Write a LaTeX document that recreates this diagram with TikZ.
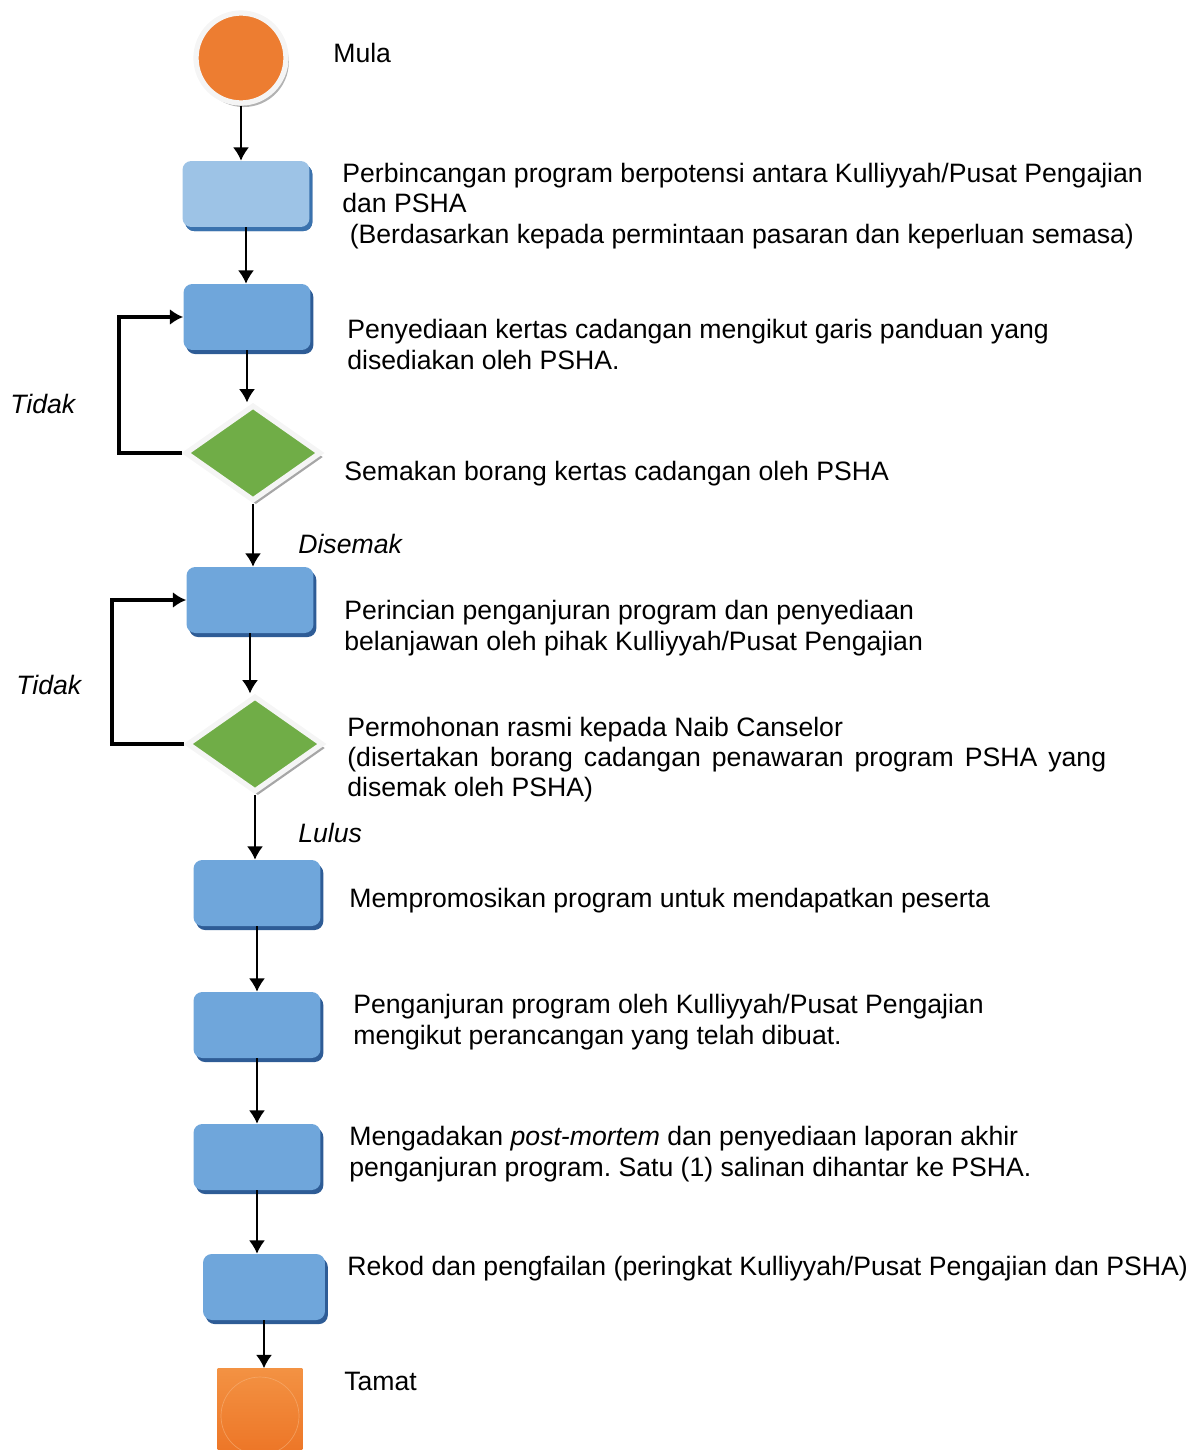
\documentclass[tikz,border=0pt]{standalone}
\usepackage{fontspec}
\setmainfont{Liberation Sans}
\usetikzlibrary{shapes.geometric, shadows, arrows.meta}

\definecolor{startorange}{HTML}{ED7D31}
\definecolor{stoptop}{HTML}{F39243}
\definecolor{stopbottom}{HTML}{EC7223}
\definecolor{lightblue}{HTML}{9DC3E6}
\definecolor{lightshade}{HTML}{3A72AE}
\definecolor{stepblue}{HTML}{6FA6DB}
\definecolor{stepshade}{HTML}{2E5C96}
\definecolor{checkgreen}{HTML}{70AD47}

\setlength{\parindent}{0pt}
\frenchspacing

\begin{document}
\begin{tikzpicture}[> = {Latex[length = 7.5pt, width = 9pt]}, x = 0.02cm, y = -0.02cm,
	txt/.style = {anchor = base west, inner sep = 0, font = \fontsize{15.15}{17.1}\selectfont, align = left},
	answer/.style = {txt, font = \fontsize{15.15}{17.1}\selectfont\itshape},
	stepbox/.style = {rectangle, rounded corners = 5pt, fill = stepblue, minimum width = 2.54cm, minimum height = 1.32cm,
		drop shadow = {shadow xshift = 1.6pt, shadow yshift = -2.3pt, fill = stepshade, opacity = 1}},
	check/.style = {diamond, fill = checkgreen, draw = gray!8, line width = 3pt, minimum width = 2.72cm, minimum height = 1.92cm, inner sep = 0,
		drop shadow = {shadow xshift = 1.6pt, shadow yshift = -2.3pt, fill = gray!70, opacity = 1}},
	flow/.style = {->, line width = 0.85pt},
	loop/.style = {->, line width = 2.3pt}]

	\useasboundingbox (0, 0) rectangle (1192, 1450);

	% Terminals

	\node [circle, fill = startorange, draw = gray!8, line width = 3pt, minimum size = 1.8cm,
		drop shadow = {shadow xshift = 1.6pt, shadow yshift = -2.3pt, fill = gray!60, opacity = 1}] (start) at (241, 58) {};

	\node [rectangle, minimum width = 1.7cm, minimum height = 1.9cm, top color = stoptop, bottom color = stopbottom,
		path picture = {\draw [stoptop!70!white, opacity = 0.6] (path picture bounding box.center) circle (0.78cm);}] (stop) at (260, 1416) {};

	% Steps

	\node [stepbox, fill = lightblue, drop shadow = {shadow xshift = 1.6pt, shadow yshift = -2.3pt, fill = lightshade, opacity = 1}] (b1) at (246, 194) {};
	\node [stepbox] (b2) at (247, 317) {};
	\node [check] (d1) at (253, 453) {};
	\node [stepbox] (b3) at (250, 600) {};
	\node [check] (d2) at (255, 744) {};
	\node [stepbox] (b4) at (257, 893) {};
	\node [stepbox] (b5) at (257, 1025) {};
	\node [stepbox] (b6) at (257, 1157) {};
	\node [stepbox, minimum width = 2.44cm] (b7) at (264, 1287) {};

	% Arrows

	\draw [flow] (start) -- (start |- b1.north);
	\draw [flow] (b1) -- (b1 |- b2.north);
	\draw [flow] (b2) -- (b2 |- d1.north);
	\draw [flow] (d1) -- (d1 |- b3.north);
	\draw [flow] (b3) -- (b3 |- d2.north);
	\draw [flow] (d2) -- (d2 |- b4.north);
	\draw [flow] (b4) -- (b4 |- b5.north);
	\draw [flow] (b5) -- (b5 |- b6.north);
	\draw [flow] (b6) -- (b6 |- b7.north);
	\draw [flow] (b7) -- (b7 |- stop.north);

	\draw [loop] (d1.west) -- ++(-63, 0) |- (b2.west);
	\draw [loop] (d2.west) -- ++(-72, 0) |- (b3.west);

	% Labels (multi-line ones sit on the baseline of their last line)

	\node [txt] (lstart) at (333, 62) {Mula};
	\node [txt] (l1) at (342, 243) {Perbincangan program berpotensi antara Kulliyyah/Pusat Pengajian\\dan PSHA\\\ (Berdasarkan kepada permintaan pasaran dan keperluan semasa)};
	\node [txt] (l2) at (347, 369) {Penyediaan kertas cadangan mengikut garis panduan yang\\disediakan oleh PSHA.};
	\node [txt] (l3) at (344, 480) {Semakan borang kertas cadangan oleh PSHA};
	\node [txt] (l4) at (344, 650) {Perincian penganjuran program dan penyediaan\\belanjawan oleh pihak Kulliyyah/Pusat Pengajian};
	\node [txt, text width = 15.18cm, align = justify] (l5) at (347, 736) {\hyphenpenalty = 10000 Permohonan rasmi kepada Naib Canselor\par
		(disertakan borang cadangan penawaran program PSHA yang disemak oleh PSHA)};
	\node [txt] (l6) at (349, 907) {Mempromosikan program untuk mendapatkan peserta};
	\node [txt] (l7) at (353, 1044) {Penganjuran program oleh Kulliyyah/Pusat Pengajian\\mengikut perancangan yang telah dibuat.};
	\node [txt] (l8) at (349, 1176) {Mengadakan \textit{post-mortem} dan penyediaan laporan akhir\\penganjuran program. Satu (1) salinan dihantar ke PSHA.};
	\node [txt] (l9) at (347, 1275) {Rekod dan pengfailan (peringkat Kulliyyah/Pusat Pengajian dan PSHA)};
	\node [txt] (lstop) at (344, 1390) {Tamat};

	\node [answer] (no1) at (10, 413) {Tidak};
	\node [answer] (yes1) at (298, 553) {Disemak};
	\node [answer] (no2) at (16, 694) {Tidak};
	\node [answer] (yes2) at (298, 842) {Lulus};

\end{tikzpicture}
\end{document}
